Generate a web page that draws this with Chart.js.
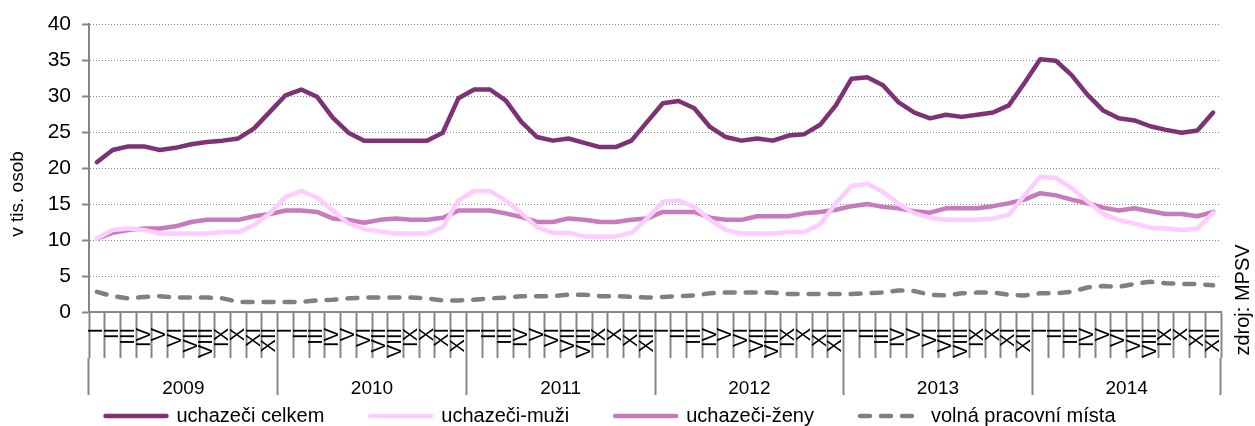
<!DOCTYPE html>
<html>
<head>
<meta charset="utf-8">
<script src="https://cdn.jsdelivr.net/npm/chart.js@4"></script>
<style>
  html, body { margin: 0; padding: 0; background: #fff; }
  #wrap { width: 1255px; height: 426px; }
</style>
</head>
<body>
<div id="wrap"><canvas id="chart" width="1255" height="426"></canvas></div>
<script>
// ── Data (v tis. osob, monthly 2009–2014) ────────────────────────

const years  = ['2009', '2010', '2011', '2012', '2013', '2014'];
const months = ['I', 'II', 'III', 'IV', 'V', 'VI', 'VII', 'VIII', 'IX', 'X', 'XI', 'XII'];

const uchazeciCelkem = [
  20.8, 22.5, 23.0, 23.0, 22.5, 22.8, 23.3, 23.6, 23.8, 24.1, 25.5, 27.8,
  30.1, 30.9, 29.9, 27.0, 24.9, 23.8, 23.8, 23.8, 23.8, 23.8, 24.9, 29.7,
  30.9, 30.9, 29.4, 26.4, 24.3, 23.8, 24.1, 23.5, 22.9, 22.9, 23.8, 26.4,
  29.0, 29.3, 28.3, 25.7, 24.3, 23.8, 24.1, 23.8, 24.5, 24.7, 26.0, 28.7,
  32.4, 32.6, 31.5, 29.1, 27.7, 26.9, 27.4, 27.1, 27.4, 27.7, 28.7, 31.8,
  35.1, 34.9, 32.9, 30.2, 28.0, 26.9, 26.6, 25.8, 25.3, 24.9, 25.2, 27.7
];

const uchazeciMuzi = [
  10.2, 11.4, 11.6, 11.4, 10.9, 10.9, 10.9, 10.9, 11.1, 11.1, 12.1, 13.7,
  16.0, 16.8, 15.9, 14.1, 12.3, 11.5, 11.2, 10.9, 10.9, 10.9, 11.8, 15.5,
  16.8, 16.8, 15.5, 13.7, 11.8, 11.0, 11.0, 10.5, 10.5, 10.5, 11.0, 13.0,
  15.3, 15.5, 14.6, 12.8, 11.4, 10.9, 10.9, 10.9, 11.1, 11.1, 12.2, 15.1,
  17.5, 17.8, 16.7, 15.0, 13.7, 13.1, 12.8, 12.8, 12.8, 13.0, 13.5, 16.2,
  18.8, 18.6, 17.2, 15.4, 13.6, 12.8, 12.3, 11.7, 11.6, 11.4, 11.6, 13.8
];

const uchazeciZeny = [
  10.2, 11.0, 11.4, 11.6, 11.6, 11.9, 12.5, 12.8, 12.8, 12.8, 13.3, 13.6,
  14.1, 14.1, 13.9, 13.0, 12.8, 12.4, 12.8, 13.0, 12.8, 12.8, 13.1, 14.1,
  14.1, 14.1, 13.7, 13.2, 12.5, 12.5, 13.0, 12.8, 12.5, 12.5, 12.8, 13.0,
  13.9, 13.9, 13.9, 13.1, 12.8, 12.8, 13.3, 13.3, 13.3, 13.7, 13.9, 14.2,
  14.7, 15.0, 14.6, 14.4, 14.0, 13.8, 14.4, 14.4, 14.4, 14.7, 15.1, 15.6,
  16.5, 16.2, 15.6, 15.1, 14.5, 14.1, 14.4, 14.0, 13.6, 13.6, 13.3, 13.9
];

const volnaMista = [
  2.8, 2.2, 1.9, 2.1, 2.2, 2.0, 2.0, 2.0, 1.9, 1.4, 1.4, 1.4,
  1.4, 1.4, 1.6, 1.7, 1.9, 2.0, 2.0, 2.0, 2.0, 1.9, 1.6, 1.6,
  1.7, 1.9, 2.0, 2.2, 2.2, 2.2, 2.4, 2.4, 2.2, 2.2, 2.1, 2.0,
  2.1, 2.2, 2.3, 2.6, 2.7, 2.7, 2.7, 2.7, 2.5, 2.5, 2.5, 2.5,
  2.5, 2.6, 2.7, 3.0, 2.9, 2.4, 2.3, 2.6, 2.7, 2.7, 2.4, 2.3,
  2.6, 2.6, 2.8, 3.4, 3.6, 3.5, 3.9, 4.2, 4.0, 3.9, 3.9, 3.7
];

const yTicks = { min: 0, max: 40, step: 5 };

// one roman-numeral label per month, years repeated
const labels = years.flatMap(() => months);

// ── Styles ───────────────────────────────────────────────────────

const FONT = '"Liberation Sans", Arial, sans-serif';
const axisGrey = '#868686';

Chart.defaults.font.family = FONT;
Chart.defaults.font.size = 19;
Chart.defaults.color = '#000';

const line = (label, data, color, extra = {}) => ({
  label, data,
  borderColor: color,
  backgroundColor: color,
  borderWidth: 4.5,
  pointRadius: 0,
  pointHoverRadius: 0,
  tension: 0,
  borderCapStyle: 'round',
  borderJoinStyle: 'round',
  fill: false,
  ...extra
});

// axis title + source note, drawn as rotated text
const sideText = {
  id: 'sideText',
  afterDraw(chart) {
    const ctx = chart.ctx;
    const put = (txt, x, y, size) => {
      ctx.save();
      ctx.font = size + 'px ' + FONT;
      ctx.fillStyle = '#000';
      ctx.textAlign = 'center';
      ctx.textBaseline = 'middle';
      ctx.translate(x, y);
      ctx.rotate(-Math.PI / 2);
      ctx.fillText(txt, 0, 0);
      ctx.restore();
    };
    put('v tis. osob', 18, 194, 19);
    put('zdroj: MPSV', 1243, 300, 20);
  }
};

// the legend's wide item padding also pushes it down; pull it back up
const legendLift = {
  id: 'legendLift',
  afterLayout(chart) {
    const lg = chart.legend;
    if (!lg) return;
    const h = lg.bottom - lg.top;
    lg.top = 360;
    lg.bottom = 360 + h;
  }
};

new Chart(document.getElementById('chart'), {
  type: 'line',
  data: {
    labels,
    datasets: [
      line('uchazeči celkem', uchazeciCelkem, '#7e3275'),
      line('uchazeči-muži', uchazeciMuzi, '#ffccff'),
      line('uchazeči-ženy', uchazeciZeny, '#c67bbb'),
      line('volná pracovní místa', volnaMista, '#808080', { borderDash: [10, 11] })
    ]
  },
  options: {
    responsive: false,
    animation: false,
    devicePixelRatio: 1,
    layout: { padding: { top: 24, right: 34, bottom: -45, left: 0 } },
    plugins: {
      tooltip: { enabled: false },
      legend: {
        position: 'bottom',
        labels: {
          usePointStyle: true,
          pointStyleWidth: 61,
          padding: 46,
          color: '#000',
          font: { size: 20 },
          generateLabels(chart) {
            const items = Chart.defaults.plugins.legend.labels.generateLabels(chart);
            items.forEach(it => {
              const ds = chart.data.datasets[it.datasetIndex];
              it.pointStyle = 'line';
              it.lineWidth = ds.borderWidth;
              it.lineDash = ds.borderDash || [];
              it.lineCap = 'round';
              it.strokeStyle = ds.borderColor;
            });
            return items;
          }
        }
      }
    },
    scales: {
      x: {
        type: 'category',
        offset: true,
        weight: 0,
        afterFit: s => { s.height = 46; },
        grid: { offset: true, drawOnChartArea: false, tickLength: 46, color: axisGrey, tickWidth: 2 },
        border: { color: axisGrey, width: 2 },
        ticks: { autoSkip: false, minRotation: 90, maxRotation: 90, padding: -30, color: '#000', font: { size: 20 } }
      },
      x2: {
        type: 'category',
        labels: years,
        position: 'bottom',
        offset: true,
        weight: 1,
        afterFit: s => { s.height = 37; },
        grid: { offset: true, drawOnChartArea: false, tickLength: 37, color: axisGrey, tickWidth: 2 },
        border: { display: false },
        ticks: { padding: -18, color: '#000', font: { size: 19 } }
      },
      y: {
        min: yTicks.min,
        max: yTicks.max,
        afterFit: s => { s.width = 89; },
        ticks: { stepSize: yTicks.step, padding: 11, color: '#000', font: { size: 21 } },
        grid: { color: axisGrey, lineWidth: 1, tickLength: 7, tickWidth: 2, tickBorderDash: [] },
        border: { color: axisGrey, width: 2, dash: [1, 2] }
      }
    }
  },
  plugins: [sideText, legendLift]
});
</script>
</body>
</html>
